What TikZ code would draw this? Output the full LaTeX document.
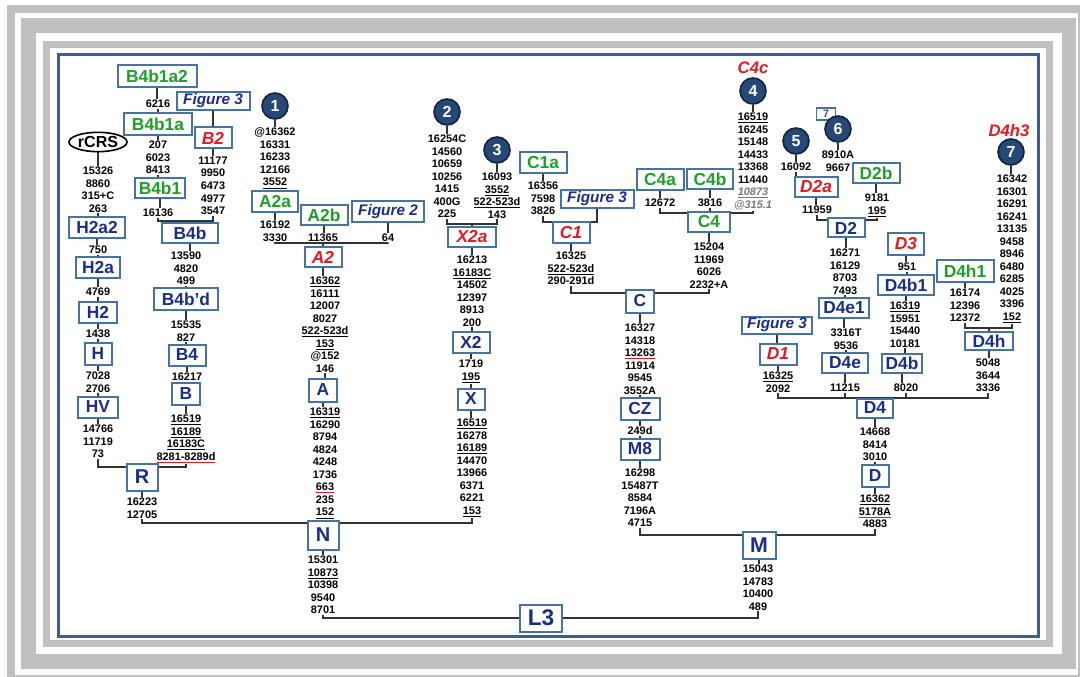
\documentclass[tikz,border=0pt]{standalone}
\usepackage{fontspec}
\setmainfont{Liberation Sans}
\usetikzlibrary{shapes.geometric}
\pgfdeclarelayer{frm}
\pgfdeclarelayer{bg}
\pgfsetlayers{frm,bg,main}
\definecolor{framegray}{RGB}{192,192,192}
\definecolor{borderblue}{RGB}{55,95,145}
\definecolor{boxblue}{RGB}{70,115,165}
\definecolor{lblue}{RGB}{25,45,140}
\definecolor{lgreen}{RGB}{30,160,40}
\definecolor{lred}{RGB}{230,25,30}
\definecolor{circfill}{RGB}{38,72,118}
\definecolor{circdraw}{RGB}{20,35,60}
\definecolor{linegray}{RGB}{50,50,50}
\definecolor{numgray}{RGB}{120,120,120}
\newcommand\uln[1]{\underline{#1}}
\newcommand\rul[1]{{\color{lred}\underline{\textcolor{black}{#1}}}}
\newcommand\gi[1]{{\color{numgray}\itshape #1}}
\newcommand\vc[2]{\draw[conn] (#1.south) -- (#1.south |- #2.north);}
\tikzset{
  bw/.style={minimum width=#1*0.75pt},
  bh/.style={minimum height=#1*0.75pt},
  hbox/.style={draw=boxblue, line width=1.5pt, fill=white, inner sep=0pt,
    font=\fontsize{13}{15}\selectfont\bfseries},
  bl/.style={hbox, text=lblue},
  gr/.style={hbox, text=lgreen},
  rd/.style={hbox, text=lred, font=\fontsize{13}{15}\selectfont\bfseries\itshape},
  fig/.style={hbox, text=lblue, font=\fontsize{11.5}{13}\selectfont\bfseries\itshape},
  big/.style={font=\fontsize{15}{17}\selectfont\bfseries},
  num/.style={anchor=north, align=center, inner sep=0.5pt,
    font=\fontsize{8.2}{9.4}\selectfont\bfseries},
  hap/.style={circle, fill=circfill, draw=circdraw, line width=1.2pt,
    minimum size=19.5pt, inner sep=0pt, text=white,
    font=\fontsize{12}{14}\selectfont\bfseries},
  lab/.style={inner sep=0pt, text=lred, font=\fontsize{12.5}{14}\selectfont\bfseries\itshape},
  ell/.style={ellipse, draw=black, line width=1.2pt, fill=white, inner sep=0pt,
    minimum width=43.5pt, minimum height=14.5pt, font=\fontsize{12}{14}\selectfont\bfseries},
  sbox/.style={draw=boxblue, line width=0.8pt, fill=white, inner sep=0pt,
    minimum width=14pt, minimum height=9pt, text=lblue!70!gray,
    font=\fontsize{8}{9}\selectfont\bfseries},
  conn/.style={draw=linegray, line width=1.1pt},
}
\begin{document}
\begin{tikzpicture}[x=0.75pt,y=-0.75pt]
\useasboundingbox (0,0) rectangle (1081,677);
\begin{pgfonlayer}{frm}
\fill[white] (0,0) rectangle (1081,677);
\fill[framegray] (7,5) rectangle (1080,677);
\fill[white] (15,13) rectangle (1078,675);
\fill[framegray] (21,18) rectangle (1076,669);
\fill[white] (36,33) rectangle (1062,654);
\fill[framegray] (43,41) rectangle (1053,647);
\fill[white] (50,48) rectangle (1046,640);
\draw[borderblue, line width=2.25pt] (58,55) rectangle (1038,636);
\end{pgfonlayer}

% ---------- H branch
\node[ell] (rCRS) at (98,142) {rCRS};
\node[num] (trCRS) at (98,166) {15326\\8860\\315+C\\263};
\node[bl,bw=56,bh=21] (H2a2) at (97,228) {H2a2};
\node[num] (t750) at (98,245) {750};
\node[bl,bw=44,bh=21] (H2a) at (98,268) {H2a};
\node[num] (t4769) at (98,287) {4769};
\node[bl,bw=38,bh=21] (H2) at (98,312) {H2};
\node[num] (t1438) at (98,329) {1438};
\node[bl,bw=27,bh=22] (H) at (98,354) {H};
\node[num] (tH) at (98,371) {7028\\2706};
\node[bl,bw=40,bh=21] (HV) at (98,407) {HV};
\node[num] (tHV) at (98,424) {14766\\11719\\73};

% ---------- B branch
\node[gr,bw=79,bh=22] (B4b1a2) at (157,76) {B4b1a2};
\node[num] (t6216) at (158,99) {6216};
\node[fig,bw=73,bh=18] (Fig3a) at (213,101) {Figure 3};
\node[gr,bw=68,bh=22] (B4b1a) at (158,124) {B4b1a};
\node[rd,bw=37,bh=21] (B2) at (213,138) {B2};
\node[num] (tB4b1a) at (158,140) {207\\6023\\8413};
\node[gr,bw=50,bh=20] (B4b1) at (160,188) {B4b1};
\node[num] (t16136) at (158,208) {16136};
\node[num] (tB2) at (213,156) {11177\\9950\\6473\\4977\\3547};
\coordinate (jB4b) at (190,221);
\node[bl,bw=56,bh=20] (B4b) at (190,233) {B4b};
\node[num] (tB4b) at (186,251) {13590\\4820\\499};
\node[bl,bw=64,bh=22] (B4bd) at (186,299) {B4b'd};
\node[num] (tB4bd) at (186,320) {15535\\827};
\node[bl,bw=37,bh=21] (B4) at (187,355) {B4};
\node[num] (t16217) at (187,372) {16217};
\node[bl,bw=28,bh=22] (B) at (186,394) {B};
\node[num] (tB) at (186,414) {\uln{16519}\\\uln{16189}\\\uln{16183C}\\\rul{8281-8289d}};
\coordinate (jR) at (142,467);
\node[bl,big,bw=31,bh=27] (R) at (142,477) {R};
\node[num] (tR) at (142,497) {16223\\12705};
\coordinate (jN) at (323,523);

% ---------- A branch
\node[hap] (c1) at (275,106) {1};
\node[num] (tc1) at (275,127) {@16362\\16331\\16233\\12166\\\uln{3552}};
\node[gr,bw=46,bh=21] (A2a) at (275,202) {A2a};
\node[num] (tA2a) at (275,220) {16192\\3330};
\node[gr,bw=47,bh=20] (A2b) at (324,215) {A2b};
\node[num] (t11365) at (323,233) {11365};
\node[fig,bw=72,bh=21] (Fig2) at (388,212) {Figure 2};
\node[num] (t64) at (388,233) {64};
\coordinate (jA2) at (323,243);
\node[rd,bw=37,bh=20] (A2) at (323,257) {A2};
\node[num] (tA2) at (325,276) {\uln{16362}\\16111\\12007\\8027\\\uln{522-523d}\\\uln{153}\\@152\\146};
\node[bl,bw=28,bh=23] (A) at (323,390) {A};
\node[num] (tA) at (325,407) {\uln{16319}\\16290\\8794\\4824\\4248\\1736\\\rul{663}\\235\\\uln{152}};
\node[bl,big,bw=31,bh=29] (N) at (323,535) {N};
\node[num] (tN) at (323,555) {15301\\\uln{10873}\\10398\\9540\\8701};
\coordinate (jL3) at (541,618);
\node[bl,bw=42,bh=27,font=\fontsize{17}{19}\selectfont\bfseries] (L3) at (541,618) {L3};

% ---------- X branch
\node[hap] (c2) at (447,112) {2};
\node[num] (tc2) at (447,134) {16254C\\14560\\10659\\10256\\1415\\400G\\225};
\node[hap] (c3) at (497,150) {3};
\node[num] (tc3) at (497,172) {16093\\\uln{3552}\\\uln{522-523d}\\143};
\coordinate (jX2a) at (472,224);
\node[rd,bw=48,bh=20] (X2a) at (472,237) {X2a};
\node[num] (tX2a) at (472,255) {16213\\\uln{16183C}\\14502\\12397\\8913\\200};
\node[bl,bw=37,bh=21] (X2) at (471,342) {X2};
\node[num] (tX2) at (471,359) {1719\\\uln{195}};
\node[bl,bw=27,bh=21] (X) at (471,399) {X};
\node[num] (tX) at (472,418) {\uln{16519}\\16278\\\uln{16189}\\14470\\13966\\6371\\6221\\\uln{153}};

% ---------- C branch
\node[gr,bw=47,bh=21] (C1a) at (543,163) {C1a};
\node[num] (tC1a) at (543,181) {16356\\7598\\3826};
\node[fig,bw=73,bh=18] (Fig3c) at (597,199) {Figure 3};
\coordinate (jC1) at (571,222);
\node[rd,bw=37,bh=21] (C1) at (571,233) {C1};
\node[num] (tC1) at (571,251) {16325\\\uln{522-523d}\\290-291d};
\node[gr,bw=47,bh=21] (C4a) at (660,180) {C4a};
\node[num] (t12672) at (660,198) {12672};
\node[gr,bw=46,bh=20] (C4b) at (710,179) {C4b};
\node[num] (t3816) at (710,198) {3816};
\node[lab] (C4c) at (753,68) {C4c};
\node[hap] (c4) at (753,91) {4};
\node[num] (tc4) at (753,112) {\uln{16519}\\16245\\15148\\14433\\13368\\11440\\\gi{\uln{10873}}\\\gi{@315.1}};
\coordinate (jC4) at (709,213);
\node[gr,bw=42,bh=20] (C4) at (709,222) {C4};
\node[num] (tC4) at (709,242) {15204\\11969\\6026\\2232+A};
\coordinate (jC) at (640,293);
\node[bl,bw=28,bh=23] (C) at (640,301) {C};
\node[num] (tC) at (640,323) {16327\\14318\\\rul{13263}\\11914\\9545\\3552A};
\node[bl,bw=39,bh=22] (CZ) at (640,409) {CZ};
\node[num] (t249d) at (640,426) {249d};
\node[bl,bw=39,bh=21] (M8) at (640,449) {M8};
\node[num] (tM8) at (640,468) {16298\\15487T\\8584\\7196A\\4715};
\coordinate (jM) at (759,535);
\node[bl,bw=33,bh=27,font=\fontsize{16}{18}\selectfont\bfseries] (M) at (759,545) {M};
\node[num] (tM) at (758,564) {15043\\14783\\10400\\489};

% ---------- D branch
\node[hap] (c5) at (796,141) {5};
\node[num] (t16092) at (796,162) {16092};
\node[sbox] (s7) at (826,114) {7};
\node[hap] (c6) at (838,129) {6};
\node[num] (tc6) at (838,150) {8910A\\9667};
\node[rd,bw=43,bh=20] (D2a) at (816,187) {D2a};
\node[num] (t11959) at (817,205) {11959};
\node[gr,bw=47,bh=20] (D2b) at (876,173) {D2b};
\node[num] (tD2b) at (877,193) {9181\\\uln{195}};
\coordinate (jD2) at (846,220);
\node[bl,bw=37,bh=19] (D2) at (846,228) {D2};
\node[num] (tD2) at (845,248) {16271\\16129\\8703\\7493};
\node[bl,bw=50,bh=20] (D4e1) at (844,308) {D4e1};
\node[num] (tD4e1) at (846,328) {3316T\\9536};
\node[bl,bw=46,bh=20] (D4e) at (845,363) {D4e};
\node[num] (t11215) at (845,383) {11215};
\node[fig,bw=70,bh=17] (Fig3d) at (777,325) {Figure 3};
\node[rd,bw=37,bh=21] (D1) at (778,354) {D1};
\node[num] (tD1) at (778,371) {\uln{16325}\\2092};
\node[rd,bw=36,bh=22] (D3) at (906,244) {D3};
\node[num] (t951) at (907,262) {951};
\node[bl,bw=56,bh=20] (D4b1) at (906,285) {D4b1};
\node[num] (tD4b1) at (905,301) {\uln{16319}\\15951\\15440\\10181};
\node[bl,bw=40,bh=19] (D4b) at (902,363) {D4b};
\node[num] (t8020) at (906,383) {8020};
\node[gr,bw=57,bh=22] (D4h1) at (965,271) {D4h1};
\node[num] (tD4h1) at (965,288) {16174\\12396\\12372};
\node[lab] (D4h3) at (1009,131) {D4h3};
\node[hap] (c7) at (1011,152) {7};
\node[num] (tc7) at (1012,174) {16342\\16301\\16291\\16241\\13135\\9458\\8946\\6480\\6285\\4025\\3396\\\uln{152}};
\coordinate (jD4h) at (989,328);
\node[bl,bw=48,bh=18] (D4h) at (989,341) {D4h};
\node[num] (tD4h) at (988,358) {5048\\3644\\3336};
\coordinate (jD4) at (875,398);
\node[bl,bw=36,bh=19] (D4) at (875,408) {D4};
\node[num] (tD4) at (875,427) {14668\\8414\\3010};
\node[bl,bw=27,bh=22] (D) at (875,476) {D};
\node[num] (tD) at (875,494) {\uln{16362}\\\rul{5178A}\\4883};

% ---------- connectors
\begin{pgfonlayer}{bg}
\vc{rCRS}{trCRS} \vc{trCRS}{H2a2} \vc{H2a2}{t750} \vc{t750}{H2a} \vc{H2a}{t4769}
\vc{t4769}{H2} \vc{H2}{t1438} \vc{t1438}{H} \vc{H}{tH} \vc{tH}{HV} \vc{HV}{tHV}
\vc{B4b1a2}{t6216} \vc{t6216}{B4b1a} \vc{B4b1a}{tB4b1a} \vc{tB4b1a}{B4b1} \vc{B4b1}{t16136}
\vc{Fig3a}{B2} \vc{B2}{tB2}
\draw[conn] (t16136.south) |- (jB4b) -| (tB2.south);
\draw[conn] (jB4b) -- (B4b.north);
\vc{B4b}{tB4b} \vc{tB4b}{B4bd} \vc{B4bd}{tB4bd} \vc{tB4bd}{B4} \vc{B4}{t16217} \vc{t16217}{B} \vc{B}{tB}
\draw[conn] (tHV.south) |- (jR) -| (tB.south);
\vc{R}{tR}
\draw[conn] (tR.south) |- (jN) -| (tX.south);
\vc{c1}{tc1} \vc{tc1}{A2a} \vc{A2a}{tA2a} \vc{A2b}{t11365} \vc{Fig2}{t64}
\draw[conn] (tA2a.south) |- (jA2) -| (t64.south);
\draw[conn] (t11365.south) -- (t11365.south |- jA2);
\draw[conn] (jA2) -- (A2.north);
\vc{A2}{tA2} \vc{tA2}{A} \vc{A}{tA} \vc{tA}{N} \vc{N}{tN}
\draw[conn] (tN.south) |- (jL3) -| (tM.south);
\vc{c2}{tc2} \vc{c3}{tc3}
\draw[conn] (tc2.south) |- (jX2a) -| (tc3.south);
\draw[conn] (jX2a) -- (X2a.north);
\vc{X2a}{tX2a} \vc{tX2a}{X2} \vc{X2}{tX2} \vc{tX2}{X} \vc{X}{tX}
\vc{C1a}{tC1a}
\draw[conn] (tC1a.south) |- (jC1) -| (Fig3c.south);
\vc{C1}{tC1}
\vc{C4a}{t12672} \vc{C4b}{t3816} \vc{c4}{tc4}
\draw[conn] (t12672.south) |- (jC4) -| (tc4.south);
\draw[conn] (t3816.south) -- (t3816.south |- jC4);
\vc{C4}{tC4}
\draw[conn] (tC1.south) |- (jC) -| (tC4.south);
\vc{C}{tC} \vc{tC}{CZ} \vc{CZ}{t249d} \vc{t249d}{M8} \vc{M8}{tM8}
\draw[conn] (tM8.south) |- (jM) -| (tD.south);
\vc{M}{tM}
\vc{c5}{t16092} \vc{t16092}{D2a} \vc{c6}{tc6}
\vc{D2a}{t11959} \vc{D2b}{tD2b}
\draw[conn] (t11959.south) |- (jD2) -| (tD2b.south);
\draw[conn] (jD2) -- (D2.north);
\vc{D2}{tD2} \vc{tD2}{D4e1} \vc{D4e1}{tD4e1} \vc{tD4e1}{D4e} \vc{D4e}{t11215}
\vc{Fig3d}{D1} \vc{D1}{tD1}
\vc{D3}{t951} \vc{t951}{D4b1} \vc{D4b1}{tD4b1} \vc{tD4b1}{D4b} \vc{D4b}{t8020}
\vc{D4h1}{tD4h1} \vc{c7}{tc7}
\draw[conn] (tD4h1.south) |- (jD4h) -| (tc7.south);
\draw[conn] (jD4h) -- (D4h.north);
\vc{D4h}{tD4h}
\draw[conn] (tD1.south) |- (jD4) -| (tD4h.south);
\draw[conn] (t11215.south) -- (t11215.south |- jD4);
\draw[conn] (t8020.south) -- (t8020.south |- jD4);
\draw[conn] (jD4) -- (D4.north);
\vc{D4}{tD4} \vc{tD4}{D} \vc{D}{tD}
\end{pgfonlayer}
\end{tikzpicture}
\end{document}
